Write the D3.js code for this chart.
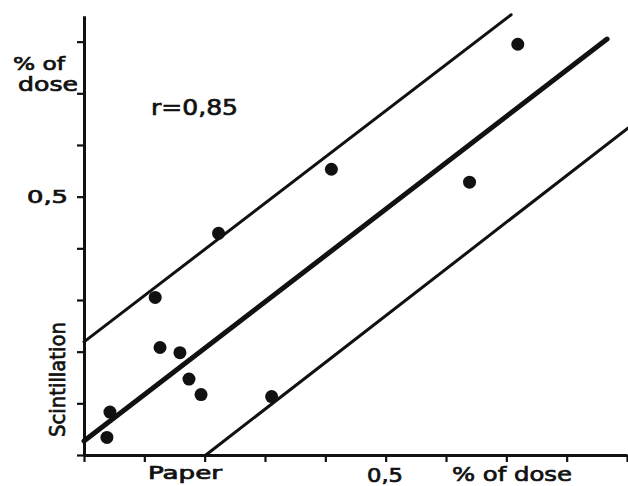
<!DOCTYPE html>
<html><head><meta charset="utf-8">
<script src="https://cdn.jsdelivr.net/npm/d3@7"></script>
<style>body{margin:0;background:#fff}svg{display:block}text{font-family:"DejaVu Sans",sans-serif;fill:#111;stroke:#111;stroke-width:0.7}</style>
</head><body>
<script>
// Data (% of dose): paper (x) vs scintillation (y)
const paperX = [0.038, 0.043, 0.118, 0.126, 0.159, 0.174, 0.194, 0.223, 0.311, 0.410, 0.639, 0.719];
const scintY = [0.034, 0.083, 0.305, 0.208, 0.198, 0.147, 0.117, 0.429, 0.113, 0.553, 0.528, 0.795];
// regression line and confidence band lines [x0,y0,x1,y1]
const mainLine = [0, 0.027, 0.867, 0.805];
const upperLine = [0, 0.219, 0.708, 0.852];
const lowerLine = [0.202, 0, 0.902, 0.633];
const xTicks = [0, 0.1, 0.2, 0.3, 0.4, 0.5, 0.6, 0.7, 0.8, 0.9];
const yTicks = [0, 0.1, 0.2, 0.3, 0.4, 0.5, 0.6, 0.7, 0.8];
const tickLabel = "0,5";
const rLabel = "r=0,85";

const W = 628, H = 486;
const svg = d3.select("body").append("svg").attr("width", W).attr("height", H);
const x = d3.scaleLinear().domain([0, 0.9]).range([84, 627]);
const y = d3.scaleLinear().domain([0, 0.85]).range([455, 455 - 0.85 * 516.7]);

const xAxis = svg.append("g").attr("transform", `translate(0,${y(0)})`)
  .call(d3.axisBottom(x).tickValues(xTicks).tickFormat("").tickSize(7).tickSizeOuter(0));
const yAxis = svg.append("g").attr("transform", `translate(${x(0)},0)`)
  .call(d3.axisLeft(y).tickValues(yTicks).tickFormat("").tickSize(7).tickSizeOuter(0));
[xAxis, yAxis].forEach(g => {
  g.select(".domain").attr("stroke", "#111").attr("stroke-width", 3);
  g.selectAll(".tick line").attr("stroke", "#111").attr("stroke-width", 2.2);
});

const lineGen = d => `M${x(d[0])},${y(d[1])}L${x(d[2])},${y(d[3])}`;
svg.append("path").attr("d", lineGen(mainLine)).attr("stroke", "#111").attr("stroke-width", 5).attr("fill", "none").attr("stroke-linecap", "round");
svg.append("path").attr("d", lineGen(upperLine)).attr("stroke", "#111").attr("stroke-width", 3).attr("fill", "none").attr("stroke-linecap", "round");
svg.append("path").attr("d", lineGen(lowerLine)).attr("stroke", "#111").attr("stroke-width", 3).attr("fill", "none").attr("stroke-linecap", "round");

svg.append("g").selectAll("circle").data(paperX.map((v, i) => [v, scintY[i]])).join("circle")
  .attr("cx", d => x(d[0])).attr("cy", d => y(d[1])).attr("r", 6.5).attr("fill", "#111");

function label(txt, px, py, size, len, rot) {
  const t = svg.append("text").attr("x", px).attr("y", py).attr("font-size", size)
    .attr("textLength", len).attr("lengthAdjust", "spacingAndGlyphs").text(txt);
  if (rot) t.attr("transform", `rotate(${rot},${px},${py})`);
  return t;
}
label("% of", 13, 70, 18, 52);
label("dose", 18, 91, 19, 60);
label(tickLabel, 27, 203, 17, 41);
label(tickLabel, 367, 482, 20, 36);
label("Paper", 148, 479, 17, 74);
label("% of dose", 452, 481, 20, 120);
label(rLabel, 151, 115, 22, 87);
label("Scintillation", 65, 437, 22, 115, -90);
</script>
</body></html>
